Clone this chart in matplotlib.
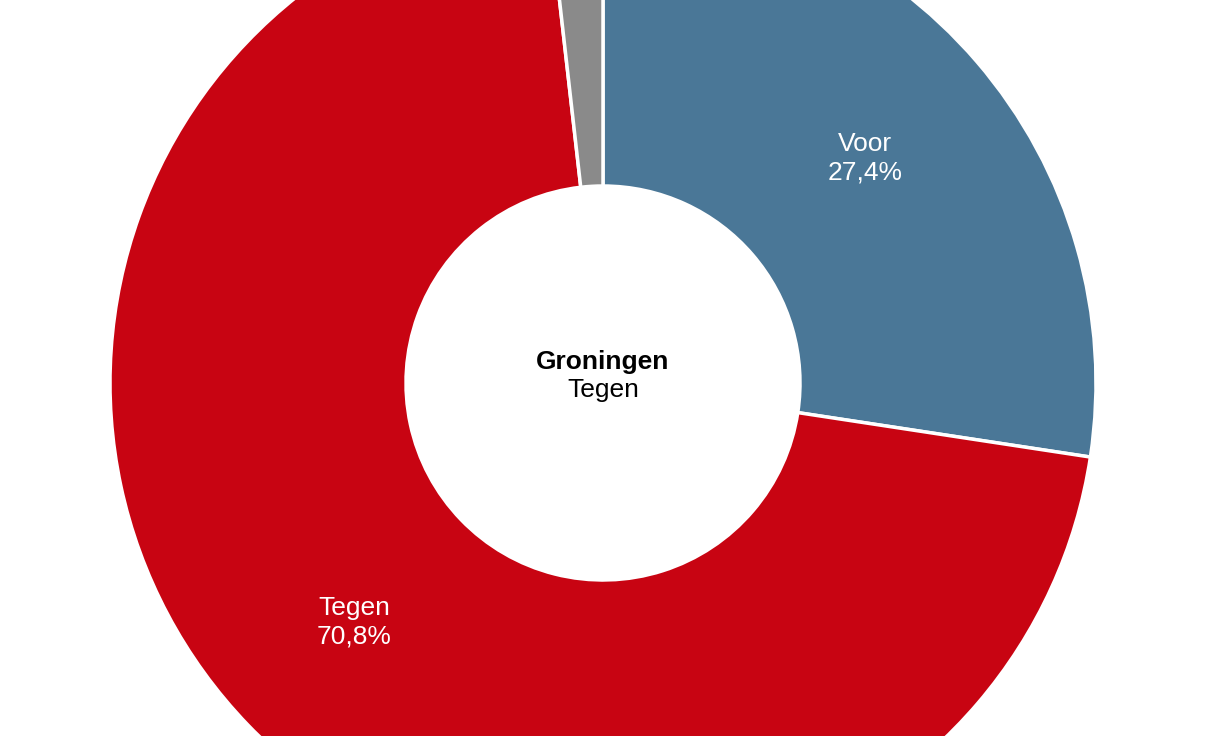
import numpy as np
import matplotlib
matplotlib.use("Agg")
import matplotlib.pyplot as plt

labels = ["Voor", "Tegen", "Onbekend"]
values = [27.4, 70.8, 1.8]
colors = ["#4a7797", "#c80412", "#8a8a8a"]
pct_text = ["27,4%", "70,8%", ""]

W, H = 1216, 736
cx, cy = 603, H - 383
r_out, r_in = 493, 197

fig = plt.figure(figsize=(W / 100, H / 100), dpi=100)
ax = fig.add_axes([0, 0, 1, 1])
ax.set_xlim(0, W)
ax.set_ylim(0, H)
ax.set_aspect("equal")
ax.axis("off")

wedges, _ = ax.pie(values, colors=colors, startangle=90, counterclock=False,
                   radius=r_out, center=(cx, cy),
                   wedgeprops=dict(width=r_out - r_in, edgecolor="white", linewidth=2.5),
                   frame=True)
ax.set_xlim(0, W)
ax.set_ylim(0, H)
ax.axis("off")

start = 90
for lab, v, p in zip(labels, values, pct_text):
    mid = start - v * 3.6 / 2
    start -= v * 3.6
    if not p:
        continue
    rr = 345
    x = cx + rr * np.cos(np.radians(mid))
    y = cy + rr * np.sin(np.radians(mid))
    ax.text(x, y, lab + "\n" + p, ha="center", va="center", color="white",
            fontsize=19, linespacing=1.25, family=["Liberation Sans", "DejaVu Sans"])

ax.text(cx, cy + 9, "Groningen", ha="center", va="bottom", fontsize=19,
        fontweight="bold", family=["Liberation Sans", "DejaVu Sans"])
ax.text(cx, cy + 5, "Tegen", ha="center", va="top", fontsize=19,
        family=["Liberation Sans", "DejaVu Sans"])

fig.savefig("out.png", dpi=100)
